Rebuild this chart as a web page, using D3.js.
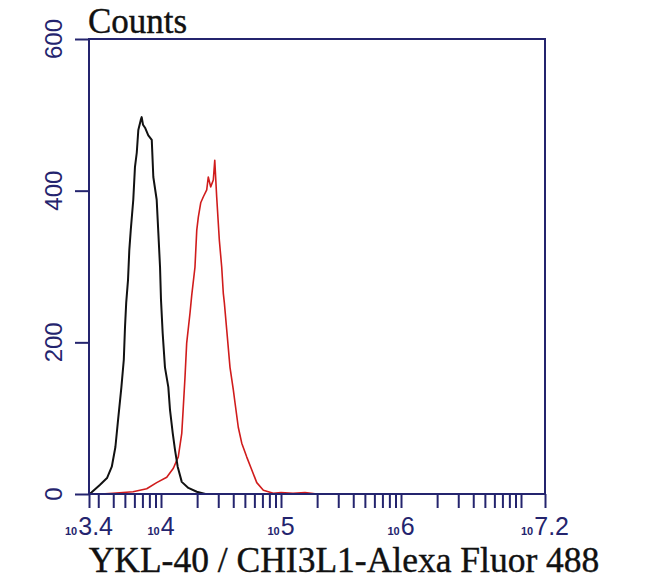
<!DOCTYPE html>
<html>
<head>
<meta charset="utf-8">
<script src="https://cdn.jsdelivr.net/npm/d3@7"></script>
<style>
  html, body { margin: 0; padding: 0; background: #ffffff; }
  svg { display: block; }
</style>
</head>
<body>
<svg id="chart" width="650" height="580"></svg>
<script>
// ---- Data (log10 of fluorescence intensity, counts) ----
const controlLog = [3.40, 3.42, 3.49, 3.55, 3.59, 3.62, 3.64, 3.67, 3.69, 3.70, 3.71, 3.725, 3.736, 3.748, 3.769, 3.783, 3.798, 3.811, 3.831, 3.839, 3.85, 3.867, 3.894, 3.923, 3.936, 3.964, 3.978, 3.992, 4.0, 4.014, 4.033, 4.061, 4.075, 4.098, 4.117, 4.139, 4.173, 4.228, 4.298, 4.37, 4.5];
const controlCounts = [0, 2, 12, 21, 36, 62, 94, 141, 177, 220, 252, 282, 322, 348, 388, 431, 450, 480, 493, 497, 487, 483, 473, 467, 418, 388, 344, 299, 256, 212, 167, 141, 111, 80, 58, 36, 16, 8, 3, 0, 0];
const sampleLog = [3.50, 3.60, 3.767, 3.881, 3.964, 4.048, 4.103, 4.144, 4.173, 4.186, 4.20, 4.214, 4.242, 4.256, 4.283, 4.298, 4.311, 4.331, 4.353, 4.381, 4.394, 4.414, 4.436, 4.448, 4.464, 4.486, 4.506, 4.519, 4.528, 4.548, 4.575, 4.603, 4.617, 4.644, 4.673, 4.714, 4.756, 4.798, 4.853, 4.936, 5.0, 5.1, 5.2, 5.3, 5.4];
const sampleCounts = [0, 1, 3, 7, 15, 22, 34, 49, 80, 115, 154, 199, 239, 262, 299, 348, 365, 384, 392, 401, 418, 405, 414, 440, 392, 335, 299, 265, 252, 216, 167, 137, 120, 88, 67, 49, 32, 15, 5, 1, 2, 1, 2, 0, 0];
const yTicks = [0, 200, 400, 600];
const xLabelExponents = ["3.4", "4", "5", "6", "7.2"];
const xLabelLogs = [3.4, 4, 5, 6, 7.2];
const xTitle = "YKL-40 / CHI3L1-Alexa Fluor 488";
const yTitle = "Counts";

// ---- Layout ----
const mLeft = 89, mRight = 545, mTop = 39, mBottom = 494;
const axisColor = "#24246e";

const svg = d3.select("#chart");
const x = d3.scaleLog().domain([Math.pow(10, 3.4), Math.pow(10, 7.2)]).range([mLeft, mRight]);
const y = d3.scaleLinear().domain([0, 600]).range([mBottom, mTop]);

// curves
const line = d3.line().x(d => x(Math.pow(10, d[0]))).y(d => y(d[1]));
const controlData = controlLog.map((v, i) => [v, controlCounts[i]]);
const sampleData = sampleLog.map((v, i) => [v, sampleCounts[i]]);

svg.append("path").datum(sampleData).attr("d", line)
  .attr("fill", "none").attr("stroke", "#d01c1c").attr("stroke-width", 1.6).attr("stroke-linejoin", "round");
svg.append("path").datum(controlData).attr("d", line)
  .attr("fill", "none").attr("stroke", "#111111").attr("stroke-width", 2).attr("stroke-linejoin", "round");

// frame
svg.append("rect").attr("x", mLeft).attr("y", mTop).attr("width", mRight - mLeft).attr("height", mBottom - mTop)
  .attr("fill", "none").attr("stroke", axisColor).attr("stroke-width", 2);

// x ticks (minor & major, below the axis)
const xTickVals = [];
for (let d = 3; d <= 7; d++) {
  for (let k = 1; k <= 9; k++) {
    const v = k * Math.pow(10, d);
    if (v >= x.domain()[0] * 0.999 && v <= x.domain()[1] * 1.001) xTickVals.push(v);
  }
}
xTickVals.push(x.domain()[0], x.domain()[1]);
const xAxis = d3.axisBottom(x).tickValues(xTickVals).tickSize(14).tickFormat("");
const gx = svg.append("g").attr("transform", `translate(0,${mBottom})`).call(xAxis);
gx.select(".domain").remove();
gx.selectAll(".tick line").attr("stroke", axisColor).attr("stroke-width", 2);

// x labels
const xl = svg.append("g");
xLabelLogs.forEach((lv, i) => {
  const t = xl.append("text").attr("x", x(Math.pow(10, lv))).attr("y", 535)
    .attr("text-anchor", "middle").attr("fill", axisColor)
    .attr("font-family", "'Liberation Sans', Arial, sans-serif");
  t.append("tspan").attr("font-size", 11).attr("font-weight", "bold").text("10");
  t.append("tspan").attr("font-size", 25).attr("dx", 1).text(xLabelExponents[i]);
});

// y ticks (left)
const yAxis = d3.axisLeft(y).tickValues(yTicks).tickSize(14).tickFormat("");
const gy = svg.append("g").attr("transform", `translate(${mLeft},0)`).call(yAxis);
gy.select(".domain").remove();
gy.selectAll(".tick line").attr("stroke", axisColor).attr("stroke-width", 2);

// y labels rotated
yTicks.forEach(v => {
  svg.append("text")
    .attr("transform", `translate(62,${y(v)}) rotate(-90)`)
    .attr("text-anchor", "middle")
    .attr("fill", axisColor)
    .attr("font-family", "'Liberation Sans', Arial, sans-serif")
    .attr("font-size", 24)
    .text(v);
});

// titles
svg.append("text").attr("x", 88).attr("y", 33)
  .attr("font-family", "'Liberation Serif', 'Times New Roman', serif")
  .attr("font-size", 35).attr("fill", "#111").attr("stroke", "#111").attr("stroke-width", 0.4).text(yTitle);

svg.append("text").attr("x", 344).attr("y", 572).attr("text-anchor", "middle")
  .attr("font-family", "'Liberation Serif', 'Times New Roman', serif")
  .attr("font-size", 35.5).attr("fill", "#111").attr("stroke", "#111").attr("stroke-width", 0.4).text(xTitle);
</script>
</body>
</html>
